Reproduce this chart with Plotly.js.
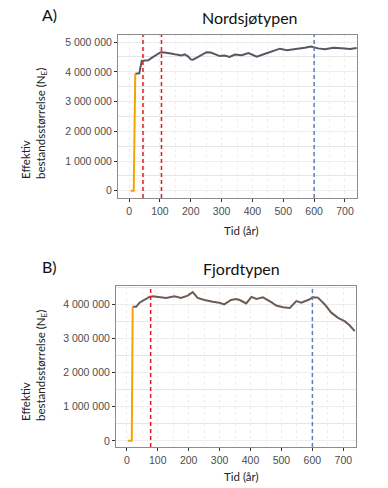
<!DOCTYPE html>
<html>
<head>
<meta charset="utf-8">
<script src="https://cdn.plot.ly/plotly-3.0.1.min.js"></script>
<style>html,body{margin:0;padding:0;background:#fff;}#chart{width:388px;height:488px;}</style>
</head>
<body>
<div id="chart"></div>
<script>
// ---- Data ----
const startYearsA = [5, 15, 20];
const startNeA = [0, 0, 3940000];
const yearsA = [20, 33, 41, 50, 62, 72, 88, 102, 115, 126, 140, 153, 170, 180, 191, 200, 207, 224, 240, 251, 265, 280, 294, 310, 326, 343, 365, 387, 400, 414, 441, 462, 489, 511, 538, 570, 590, 613, 635, 662, 689, 716, 738];
const neA = [3940000, 3950000, 4370000, 4380000, 4390000, 4460000, 4560000, 4660000, 4650000, 4640000, 4610000, 4580000, 4550000, 4590000, 4520000, 4420000, 4410000, 4500000, 4590000, 4660000, 4650000, 4600000, 4530000, 4550000, 4500000, 4580000, 4560000, 4630000, 4580000, 4510000, 4610000, 4680000, 4780000, 4730000, 4760000, 4810000, 4850000, 4790000, 4760000, 4810000, 4790000, 4770000, 4800000];
const redLinesA = [45, 105];
const blueLinesA = [600];

const startYearsB = [3, 16, 19];
const startNeB = [0, 0, 3920000];
const yearsB = [19, 30, 41, 57, 73, 84, 105, 127, 154, 175, 197, 213, 229, 251, 278, 299, 315, 337, 353, 365, 386, 403, 419, 440, 467, 483, 505, 527, 548, 564, 586, 602, 618, 640, 661, 683, 704, 720, 737];
const neB = [3920000, 3920000, 4040000, 4120000, 4210000, 4230000, 4210000, 4180000, 4230000, 4180000, 4250000, 4350000, 4180000, 4120000, 4070000, 4040000, 3990000, 4120000, 4150000, 4120000, 4020000, 4210000, 4150000, 4200000, 4060000, 3960000, 3910000, 3890000, 4090000, 4040000, 4120000, 4200000, 4190000, 3990000, 3750000, 3600000, 3500000, 3380000, 3210000];
const redLinesB = [77];
const blueLinesB = [600];

const xTickVals = [0, 100, 200, 300, 400, 500, 600, 700];
const xTickText = ["0", "100", "200", "300", "400", "500", "600", "700"];
const yTickValsA = [0, 1000000, 2000000, 3000000, 4000000, 5000000];
const yTickTextA = ["0", "1 000 000", "2 000 000", "3 000 000", "4 000 000", "5 000 000"];
const yTickValsB = [0, 1000000, 2000000, 3000000, 4000000];
const yTickTextB = ["0", "1 000 000", "2 000 000", "3 000 000", "4 000 000"];

// ---- Styling ----
const W = 388, H = 488;
const px = v => v / W;
const py = v => 1 - v / H;
const tickFont = {family: "Liberation Sans, Arial, sans-serif", size: 10.5, color: "#4d4d4d"};
const labelFont = {family: "Lato, Open Sans, sans-serif", size: 11.5, color: "#222"};
const titleFont = {family: "Lato, Open Sans, sans-serif", size: 16, color: "#111"};

function xAxis(domain, range, anchor) {
  return {domain: domain, range: range, anchor: anchor, tickvals: xTickVals, ticktext: xTickText,
    tickfont: tickFont, ticks: "outside", ticklen: 3, tickcolor: "#333",
    showline: true, mirror: true, linecolor: "#8c8c8c", linewidth: 1,
    showgrid: true, gridcolor: "#ececec", gridwidth: 1, griddash: "dot",
    minor: {dtick: 50, tick0: 0, showgrid: true, gridcolor: "#efefef", griddash: "dot"},
    zeroline: false, fixedrange: true};
}
function yAxis(domain, range, anchor, vals, text) {
  return {domain: domain, range: range, anchor: anchor, tickvals: vals, ticktext: text,
    tickfont: tickFont, ticks: "outside", ticklen: 3, tickcolor: "#333",
    showline: true, mirror: true, linecolor: "#8c8c8c", linewidth: 1,
    showgrid: true, gridcolor: "#ededed", gridwidth: 1,
    minor: {dtick: 1000000, tick0: 500000, showgrid: true, gridcolor: "#e6e6e6"},
    zeroline: false, fixedrange: true};
}

const traces = [
  {x: yearsA, y: neA, xaxis: "x", yaxis: "y", mode: "lines", line: {color: "#5a5563", width: 2}, hoverinfo: "skip"},
  {x: startYearsA, y: startNeA, xaxis: "x", yaxis: "y", mode: "lines", line: {color: "#f5a300", width: 2}, hoverinfo: "skip"},
  {x: yearsB, y: neB, xaxis: "x2", yaxis: "y2", mode: "lines", line: {color: "#6d5c55", width: 2}, hoverinfo: "skip"},
  {x: startYearsB, y: startNeB, xaxis: "x2", yaxis: "y2", mode: "lines", line: {color: "#f5a300", width: 2}, hoverinfo: "skip"}
];

const shapes = [];
function vline(xv, xr, yr, color) {
  shapes.push({type: "line", xref: xr, yref: yr + " domain", x0: xv, x1: xv, y0: 0, y1: 1,
    line: {color: color, width: 1.5, dash: "4px,3px"}});
}
redLinesA.forEach(v => vline(v, "x", "y", "#e8191c"));
blueLinesA.forEach(v => vline(v, "x", "y", "#5b7fb8"));
redLinesB.forEach(v => vline(v, "x2", "y2", "#e8191c"));
blueLinesB.forEach(v => vline(v, "x2", "y2", "#5b7fb8"));

const ytitle = "Effektiv<br>bestandsstørrelse (N<sub>E</sub>)";
function ann(text, x, y, font, extra) {
  return Object.assign({text: text, x: px(x), y: py(y), xref: "paper", yref: "paper", showarrow: false,
    xanchor: "center", yanchor: "middle", font: font}, extra || {});
}
const annotations = [
  ann("A)", 49, 15, titleFont),
  ann("Nordsjøtypen", 250, 17, titleFont),
  ann("Tid (år)", 241, 230, labelFont),
  ann(ytitle, 34, 124, labelFont, {textangle: -90, align: "left"}),
  ann("B)", 49, 266, titleFont),
  ann("Fjordtypen", 241, 268, titleFont),
  ann("Tid (år)", 241, 476, labelFont),
  ann(ytitle, 34, 366, labelFont, {textangle: -90, align: "left"})
];

const layout = {
  width: W, height: H, margin: {l: 0, r: 0, t: 0, b: 0},
  paper_bgcolor: "#fff", plot_bgcolor: "#fff", showlegend: false,
  xaxis: xAxis([px(118), px(357)], [-36, 739], "y"),
  yaxis: yAxis([py(198), py(35)], [-245000, 5240000], "x", yTickValsA, yTickTextA),
  xaxis2: xAxis([px(116), px(356)], [-35, 741], "y2"),
  yaxis2: yAxis([py(447), py(286)], [-180000, 4530000], "x2", yTickValsB, yTickTextB),
  shapes: shapes, annotations: annotations
};

Plotly.newPlot("chart", traces, layout, {displayModeBar: false, staticPlot: true});
</script>
</body>
</html>
